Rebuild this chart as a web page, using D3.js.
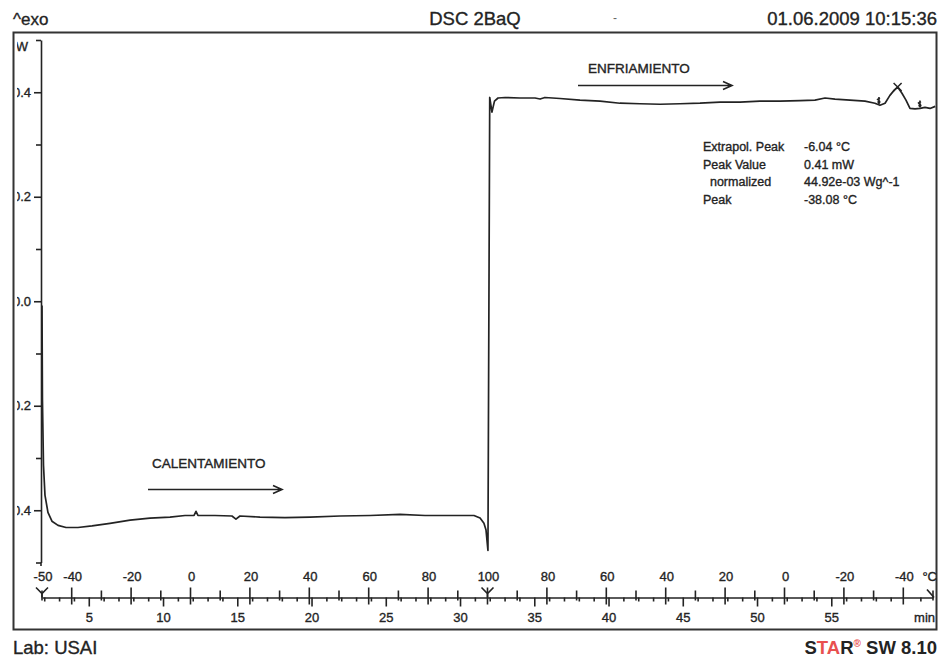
<!DOCTYPE html>
<html>
<head>
<meta charset="utf-8">
<script src="https://cdn.jsdelivr.net/npm/d3@7"></script>
<style>
  html, body { margin: 0; padding: 0; background: #fff; }
  svg { display: block; font-family: "Liberation Sans", Arial, sans-serif; }
  svg text { stroke: #232323; stroke-width: 0.35px; }
</style>
</head>
<body>
<svg id="chart" width="944" height="657"></svg>
<script>
// DSC run: heating -50 -> 100 °C then cooling 100 -> -50 °C at 5 K/min
const heatingTime = [1.85, 1.88, 1.95, 2.05, 2.25, 2.52, 2.93, 3.47, 4.27, 5.22, 6.43, 7.78, 9.12, 10.47, 11.48, 12.09, 12.22, 12.35, 13.50, 14.64, 14.91, 15.18, 16.53, 18.21, 19.90, 21.92, 23.94, 25.96, 27.64, 29.32, 30.94, 31.35, 31.61, 31.75, 31.88];
const heatingFlow = [-0.008, -0.189, -0.314, -0.371, -0.404, -0.421, -0.429, -0.433, -0.433, -0.430, -0.425, -0.419, -0.415, -0.413, -0.410, -0.410, -0.402, -0.410, -0.410, -0.411, -0.417, -0.411, -0.413, -0.414, -0.413, -0.411, -0.410, -0.408, -0.410, -0.410, -0.410, -0.415, -0.425, -0.438, -0.477];
const coolingTime = [32.00, 32.15, 32.32, 32.56, 33.03, 34.04, 35.05, 35.39, 35.72, 36.73, 38.08, 39.43, 40.77, 42.12, 43.47, 44.81, 46.16, 47.51, 48.85, 50.20, 51.55, 52.90, 53.90, 54.58, 55.25, 56.26, 57.27, 57.94, 58.28, 58.62, 58.95, 59.24, 59.47, 59.76, 60.03, 60.30, 60.64, 60.98, 61.31, 61.65, 62.00];
const coolingFlow = [0.390, 0.362, 0.383, 0.389, 0.390, 0.389, 0.389, 0.387, 0.390, 0.388, 0.385, 0.383, 0.379, 0.378, 0.377, 0.378, 0.379, 0.381, 0.381, 0.383, 0.383, 0.384, 0.385, 0.389, 0.387, 0.385, 0.383, 0.379, 0.375, 0.379, 0.394, 0.404, 0.410, 0.398, 0.385, 0.369, 0.368, 0.369, 0.371, 0.369, 0.373];

// Peak evaluation
const peakTemp = -38.08;      // °C
const peakValue = 0.41;       // mW
const limitTimes = [58.21, 60.97];
const resultLabels = ["Extrapol. Peak", "Peak Value", "  normalized", "Peak"];
const resultValues = ["-6.04 °C", "0.41 mW", "44.92e-03 Wg^-1", "-38.08 °C"];

// Axis ticks
const yMajorTicks = [0.4, 0.2, 0.0, -0.2, -0.4];
const yMinorTicks = [0.5, 0.3, 0.1, -0.1, -0.3, -0.5];
const timeLabels = [5, 10, 15, 20, 25, 30, 35, 40, 45, 50, 55];
const heatTempLabels = [-50, -40, -20, 0, 20, 40, 60, 80, 100];
const coolTempLabels = [80, 60, 40, 20, 0, -20, -40];
const heatTempTicks = d3.range(-50, 101, 10);
const coolTempTicks = d3.range(90, -51, -10);

const tStart = 1.85, tTurn = 31.85, tEnd = 61.85, rate = 5;
const heatT = T => tStart + (T + 50) / rate;
const coolT = T => tTurn + (100 - T) / rate;

const svg = d3.select("#chart");
const ink = "#232323";
const font = '"Liberation Sans", Arial, sans-serif';

const x = d3.scaleLinear().domain([tStart, tEnd]).range([42, 933]);
const y = d3.scaleLinear().domain([-0.5, 0.5]).range([562.5, 40]);
const axisY = 597.5;

// Frame
svg.append("rect").attr("x", 13.5).attr("y", 32.5).attr("width", 923).attr("height", 597)
  .attr("fill", "none").attr("stroke", "#333").attr("stroke-width", 2);

// Header / footer
svg.append("text").attr("x", 13).attr("y", 25).attr("font-size", 17).attr("fill", ink).text("^exo");
svg.append("text").attr("x", 475).attr("y", 25).attr("text-anchor", "middle").attr("font-size", 18.5)
  .attr("fill", ink).text("DSC 2BaQ");
svg.append("text").attr("x", 615).attr("y", 22).attr("text-anchor", "middle").attr("font-size", 12)
  .attr("fill", "#666").style("stroke", "none").text("-");
svg.append("text").attr("x", 937).attr("y", 25).attr("text-anchor", "end").attr("font-size", 18.5)
  .attr("fill", ink).text("01.06.2009 10:15:36");
svg.append("text").attr("x", 13).attr("y", 654).attr("font-size", 18.5).attr("fill", ink).text("Lab: USAI");
const star = svg.append("text").attr("x", 937).attr("y", 654).attr("text-anchor", "end")
  .attr("font-size", 18.5).attr("font-weight", "bold").attr("fill", ink).style("stroke", "none");
star.append("tspan").text("S");
star.append("tspan").attr("fill", "#e8504f").text("TA");
star.append("tspan").text("R");
star.append("tspan").attr("fill", "#e8504f").attr("font-size", 10).attr("dy", -7).text("®");
star.append("tspan").attr("dy", 7).text(" SW 8.10");

// Y axis; labels run past the left frame edge and are cut there
svg.append("clipPath").attr("id", "inside").append("rect")
  .attr("x", 17).attr("y", 33).attr("width", 919).attr("height", 596);

const yAxis = svg.append("g").attr("clip-path", "url(#inside)")
  .append("g").attr("transform", "translate(41,0)")
  .call(d3.axisLeft(y).tickValues(yMajorTicks).tickSize(7).tickSizeOuter(0).tickPadding(3)
    .tickFormat(d3.format(".1f")));
yAxis.selectAll("text").attr("font-size", 13).attr("font-family", font).attr("fill", ink);
yAxis.selectAll("line,path").attr("stroke", ink).attr("stroke-width", 1.6);
const yMinor = svg.append("g").attr("transform", "translate(41,0)")
  .call(d3.axisLeft(y).tickValues(yMinorTicks).tickSize(5).tickSizeOuter(0).tickFormat(""));
yMinor.select(".domain").remove();
yMinor.selectAll("line").attr("stroke", ink).attr("stroke-width", 1.6);
svg.append("line").attr("x1", 41).attr("x2", 41).attr("y1", y(-0.5)).attr("y2", 566)
  .attr("stroke", ink).attr("stroke-width", 1.6);
svg.append("g").attr("clip-path", "url(#inside)").append("text")
  .attr("x", 28).attr("y", 51).attr("text-anchor", "end").attr("font-size", 13).attr("fill", ink).text("mW");

// Time axis (below the line)
const tAxis = svg.append("g").attr("transform", `translate(0,${axisY})`)
  .call(d3.axisBottom(x).tickValues(timeLabels).tickSize(9).tickSizeOuter(0).tickPadding(6));
tAxis.selectAll("text").attr("font-size", 13).attr("font-family", font).attr("fill", ink);
tAxis.selectAll("line,path").attr("stroke", ink).attr("stroke-width", 1.6);
const tMinor = svg.append("g").attr("transform", `translate(0,${axisY})`)
  .call(d3.axisBottom(x).tickValues(d3.range(2, 62).filter(d => d % 5)).tickSize(4).tickFormat(""));
tMinor.select(".domain").remove();
tMinor.selectAll("line").attr("stroke", ink).attr("stroke-width", 1.6);
svg.append("text").attr("x", 935).attr("y", axisY + 24).attr("text-anchor", "end")
  .attr("font-size", 13).attr("fill", ink).text("min");

// Temperature ticks and labels (above the line)
const tempTicks = heatTempTicks.map(T => ({ t: heatT(T), T }))
  .concat(coolTempTicks.map(T => ({ t: coolT(T), T })));
svg.append("g").selectAll("line").data(tempTicks).join("line")
  .attr("x1", d => x(d.t)).attr("x2", d => x(d.t))
  .attr("y1", d => axisY - (d.T % 20 === 0 ? 10 : 7))
  .attr("y2", d => axisY + (d.T % 20 === 0 ? 7 : 3))
  .attr("stroke", ink).attr("stroke-width", 1.6);
const tempLabels = heatTempLabels.map(T => ({ t: heatT(T), T }))
  .concat(coolTempLabels.map(T => ({ t: coolT(T), T })));
svg.append("g").selectAll("text").data(tempLabels).join("text")
  .attr("x", d => x(d.t) + 1).attr("y", axisY - 17).attr("text-anchor", "middle")
  .attr("font-size", 13).attr("fill", ink).text(d => d.T);
svg.append("text").attr("x", 937).attr("y", axisY - 17).attr("text-anchor", "end")
  .attr("font-size", 13).attr("fill", ink).text("°C");

// Segment start markers and axis end
[tStart, tTurn].forEach(t => {
  const px = x(t);
  svg.append("path")
    .attr("d", `M${px - 6},${axisY - 10} L${px},${axisY - 4} L${px + 6},${axisY - 10} M${px},${axisY - 4} L${px},${axisY}`)
    .attr("fill", "none").attr("stroke", ink).attr("stroke-width", 1.6);
});
svg.append("path").attr("d", `M${x(tEnd) - 6},${axisY - 8} L${x(tEnd) + 1},${axisY}`)
  .attr("fill", "none").attr("stroke", ink).attr("stroke-width", 1.6);

// Heat flow curve
const curve = heatingTime.map((t, i) => [t, heatingFlow[i]])
  .concat(coolingTime.map((t, i) => [t, coolingFlow[i]]));
svg.append("path").datum(curve)
  .attr("d", d3.line().x(d => x(d[0])).y(d => y(d[1])))
  .attr("fill", "none").attr("stroke", ink).attr("stroke-width", 1.7).attr("stroke-linejoin", "round");

// Peak cross and integration limits
const pkX = x(coolT(peakTemp)), pkY = y(peakValue);
svg.append("path").attr("d", `M${pkX - 4},${pkY - 4} L${pkX + 4},${pkY + 4} M${pkX + 4},${pkY - 4} L${pkX - 4},${pkY + 4}`)
  .attr("stroke", ink).attr("stroke-width", 1.5);
const flowAt = t => {
  const i = d3.bisectLeft(coolingTime, t);
  const t0 = coolingTime[i - 1], t1 = coolingTime[i];
  return coolingFlow[i - 1] + (coolingFlow[i] - coolingFlow[i - 1]) * (t - t0) / (t1 - t0);
};
limitTimes.forEach(t => {
  const px = x(t), py = y(flowAt(t));
  svg.append("path").attr("d", `M${px},${py - 1} L${px},${py - 8} M${px - 2},${py - 5} L${px + 1},${py - 7}`)
    .attr("stroke", ink).attr("stroke-width", 1.6);
  svg.append("circle").attr("cx", px).attr("cy", py - 3).attr("r", 1.6).attr("fill", ink);
});

// Result table
const table = svg.append("g").attr("font-size", 12.5).attr("fill", ink);
resultLabels.forEach((s, i) => {
  table.append("text").attr("x", 703).attr("y", 151 + i * 17.7).attr("xml:space", "preserve").text(s);
  table.append("text").attr("x", 804).attr("y", 151 + i * 17.7).text(resultValues[i]);
});

// Direction annotations
function arrow(x1, x2, yy) {
  svg.append("path")
    .attr("d", `M${x1},${yy} L${x2},${yy} M${x2 - 9},${yy - 4} L${x2},${yy} L${x2 - 9},${yy + 4}`)
    .attr("fill", "none").attr("stroke", ink).attr("stroke-width", 1.6);
}
svg.append("text").attr("x", 152).attr("y", 468).attr("font-size", 13.5).attr("fill", ink).text("CALENTAMIENTO");
arrow(148, 282, 489.5);
svg.append("text").attr("x", 588).attr("y", 73).attr("font-size", 13.5).attr("fill", ink).text("ENFRIAMIENTO");
arrow(578, 732, 85.5);
</script>
</body>
</html>
